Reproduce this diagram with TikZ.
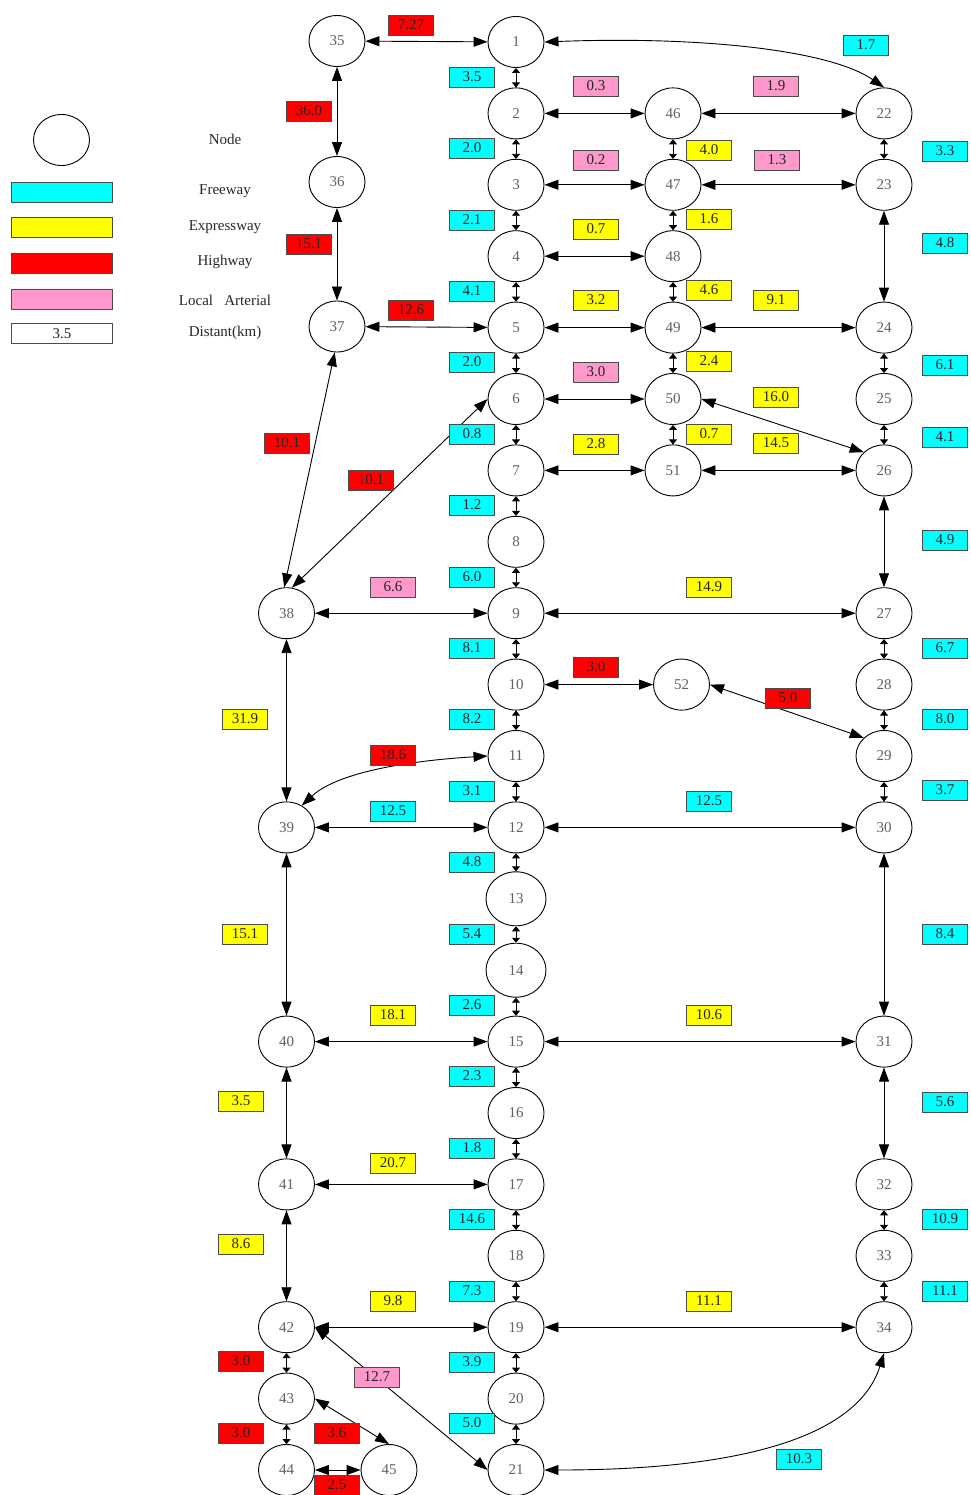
\documentclass[tikz,border=0pt]{standalone}
\usepackage{fontspec}
\setmainfont{Liberation Serif}
\usetikzlibrary{arrows.meta,shapes.geometric}
\definecolor{fwc}{HTML}{00FFFF}
\definecolor{exc}{HTML}{FFFF00}
\definecolor{hwc}{HTML}{FF0000}
\definecolor{lac}{HTML}{FF99CC}
\begin{document}
\begin{tikzpicture}[x=1pt,y=-1pt,
  nd/.style={ellipse,draw=black,line width=0.9pt,minimum width=56pt,minimum height=51pt,inner sep=0pt,font=\fontsize{15}{15}\selectfont,text=black!62},
  lb/.style={rectangle,draw=black!70,line width=0.9pt,minimum width=45pt,minimum height=20pt,inner sep=0pt,font=\fontsize{15}{15}\selectfont,text=black!85},
  fwy/.style={lb,fill=fwc}, exw/.style={lb,fill=exc}, hwy/.style={lb,fill=hwc}, loc/.style={lb,fill=lac},
  lgbox/.style={rectangle,draw=black!70,line width=0.9pt,minimum width=101pt,minimum height=20pt,inner sep=0pt,font=\fontsize{15}{15}\selectfont},
  lgtxt/.style={font=\fontsize{15}{15}\selectfont,text=black!85,inner sep=0pt},
  big/.style={{Triangle[length=14pt,width=10pt]}-{Triangle[length=14pt,width=10pt]},line width=0.9pt},
  sml/.style={{Triangle[length=5pt,width=8pt]}-{Triangle[length=5pt,width=8pt]},line width=0.9pt},
]
\useasboundingbox (0,0) rectangle (970,1495);
% legend
\node[nd] (lgnode) at (61.5,140) {};
\node[lgbox,fill=fwc] (lgfw) at (62,192) {};
\node[lgbox,fill=exc] (lgex) at (62,227.5) {};
\node[lgbox,fill=hwc] (lghw) at (62,263) {};
\node[lgbox,fill=lac] (lgla) at (62,299) {};
\node[lgbox,fill=white,text=black!85] (lgdi) at (62,333.5) {3.5};
\node[lgtxt] (tnode) at (225,139) {Node};
\node[lgtxt] (tfw) at (225,191) {Freeway};
\node[lgtxt] (tex) at (225,227) {Expressway};
\node[lgtxt] (thw) at (225,262) {Highway};
\node[lgtxt] (tla) at (225,300) {Local\ \ \ Arterial};
\node[lgtxt] (tdi) at (225,333) {Distant(km)};
% central column
\node[nd] (n1) at (516,42) {1};
\node[nd] (n2) at (516,113.4) {2};
\node[nd] (n3) at (516,184.8) {3};
\node[nd] (n4) at (516,256.2) {4};
\node[nd] (n5) at (516,327.6) {5};
\node[nd] (n6) at (516,399) {6};
\node[nd] (n7) at (516,470.4) {7};
\node[nd] (n8) at (516,541.8) {8};
\node[nd] (n9) at (516,613.2) {9};
\node[nd] (n10) at (516,684.6) {10};
\node[nd] (n11) at (516,756) {11};
\node[nd] (n12) at (516,827.4) {12};
\node[nd,minimum width=60pt,minimum height=54pt] (n13) at (516,898.8) {13};
\node[nd,minimum width=60pt,minimum height=54pt] (n14) at (516,970.2) {14};
\node[nd] (n15) at (516,1041.6) {15};
\node[nd] (n16) at (516,1113) {16};
\node[nd] (n17) at (516,1184.4) {17};
\node[nd] (n18) at (516,1255.8) {18};
\node[nd] (n19) at (516,1327.2) {19};
\node[nd] (n20) at (516,1398.6) {20};
\node[nd] (n21) at (516,1470) {21};
% right column
\node[nd] (n22) at (884,113.4) {22};
\node[nd] (n23) at (884,184.8) {23};
\node[nd] (n24) at (884,327.6) {24};
\node[nd] (n25) at (884,399) {25};
\node[nd] (n26) at (884,470.4) {26};
\node[nd] (n27) at (884,613.2) {27};
\node[nd] (n28) at (884,684.6) {28};
\node[nd] (n29) at (884,756) {29};
\node[nd] (n30) at (884,827.4) {30};
\node[nd] (n31) at (884,1041.6) {31};
\node[nd] (n32) at (884,1184.4) {32};
\node[nd] (n33) at (884,1255.8) {33};
\node[nd] (n34) at (884,1327.2) {34};
% left columns
\node[nd] (n35) at (337,41) {35};
\node[nd] (n36) at (337,182) {36};
\node[nd] (n37) at (337,326.5) {37};
\node[nd] (n38) at (286.5,613.2) {38};
\node[nd] (n39) at (286.5,827.4) {39};
\node[nd] (n40) at (286.5,1041.6) {40};
\node[nd] (n41) at (286.5,1184.4) {41};
\node[nd] (n42) at (286.5,1327.2) {42};
\node[nd] (n43) at (286.5,1398.6) {43};
\node[nd] (n44) at (286.5,1470) {44};
\node[nd] (n45) at (389,1470) {45};
% middle column
\node[nd] (n46) at (673,113.4) {46};
\node[nd] (n47) at (673,184.8) {47};
\node[nd] (n48) at (673,256.2) {48};
\node[nd] (n49) at (673,327.6) {49};
\node[nd] (n50) at (673,399) {50};
\node[nd] (n51) at (673,470.4) {51};
\node[nd] (n52) at (681.5,684.6) {52};
% short vertical links
\foreach \a/\b in {1/2,2/3,3/4,4/5,5/6,6/7,7/8,8/9,9/10,10/11,11/12,12/13,13/14,14/15,15/16,16/17,17/18,18/19,19/20,20/21,
  46/47,47/48,48/49,49/50,50/51,22/23,24/25,25/26,27/28,28/29,29/30,32/33,33/34,42/43,43/44}
  \draw[sml] (n\a) -- (n\b);
% long links
\foreach \a/\b in {23/24,26/27,30/31,31/32,35/36,36/37,38/39,39/40,40/41,41/42,
  35/1,37/5,38/9,39/12,40/15,41/17,42/19,44/45,
  2/46,3/47,4/48,5/49,6/50,7/51,46/22,47/23,49/24,51/26,9/27,10/52,12/30,15/31,19/34}
  \draw[big] (n\a) -- (n\b);
\draw[big] (n37.265) -- (n38.95);
\draw[big] (n6.west) -- (n38.78);
\draw[big] (n50.east) -- (n26.138);
\draw[big] (n52.east) -- (n29.138);
\draw[big] (n42.east) -- (n21.west);
\draw[big] (n43.east) -- (n45.north);
\draw[big] (n11.west) .. controls (420,760) and (340,770) .. (n39.55);
\draw[big] (n1.east) .. controls (700,36) and (830,50) .. (n22.north);
\draw[big] (n21.east) .. controls (760,1470) and (860,1430) .. (n34.south);
% labels
\node[hwy] (d1) at (411,25) {7.27};
\node[hwy] (d2) at (309,111) {36.0};
\node[hwy] (d3) at (309,244) {15.1};
\node[hwy] (d4) at (411,310) {12.6};
\node[hwy] (d5) at (287,443) {10.1};
\node[hwy] (d6) at (371,480) {10.1};
\node[fwy] (d7) at (472,77) {3.5};
\node[fwy] (d8) at (472,148) {2.0};
\node[fwy] (d9) at (472,220) {2.1};
\node[fwy] (d10) at (472,291) {4.1};
\node[fwy] (d11) at (472,362) {2.0};
\node[fwy] (d12) at (472,434) {0.8};
\node[fwy] (d13) at (472,505) {1.2};
\node[fwy] (d14) at (472,577) {6.0};
\node[fwy] (d15) at (472,648) {8.1};
\node[fwy] (d16) at (472,719) {8.2};
\node[fwy] (d17) at (472,791) {3.1};
\node[fwy] (d18) at (472,862) {4.8};
\node[fwy] (d19) at (472,934) {5.4};
\node[fwy] (d20) at (472,1005) {2.6};
\node[fwy] (d21) at (472,1076) {2.3};
\node[fwy] (d22) at (472,1148) {1.8};
\node[fwy] (d23) at (472,1219) {14.6};
\node[fwy] (d24) at (472,1291) {7.3};
\node[fwy] (d25) at (472,1362) {3.9};
\node[fwy] (d26) at (472,1423) {5.0};
\node[loc] (d27) at (596,86) {0.3};
\node[loc] (d28) at (596,160) {0.2};
\node[exw] (d29) at (596,229) {0.7};
\node[exw] (d30) at (596,300) {3.2};
\node[loc] (d31) at (596,372) {3.0};
\node[exw] (d32) at (596,444) {2.8};
\node[exw] (d33) at (709,150) {4.0};
\node[exw] (d34) at (709,219) {1.6};
\node[exw] (d35) at (709,290) {4.6};
\node[exw] (d36) at (709,361) {2.4};
\node[exw] (d37) at (709,434) {0.7};
\node[loc] (d38) at (776,86) {1.9};
\node[loc] (d39) at (777,160) {1.3};
\node[exw] (d40) at (776,300) {9.1};
\node[exw] (d41) at (776,397) {16.0};
\node[exw] (d42) at (776,443) {14.5};
\node[fwy] (d43) at (866,45) {1.7};
\node[fwy] (d44) at (945,151) {3.3};
\node[fwy] (d45) at (945,243) {4.8};
\node[fwy] (d46) at (945,365) {6.1};
\node[fwy] (d47) at (945,437) {4.1};
\node[fwy] (d48) at (945,540) {4.9};
\node[fwy] (d49) at (945,648) {6.7};
\node[fwy] (d50) at (945,719) {8.0};
\node[fwy] (d51) at (945,790) {3.7};
\node[fwy] (d52) at (945,934) {8.4};
\node[fwy] (d53) at (945,1102) {5.6};
\node[fwy] (d54) at (945,1219) {10.9};
\node[fwy] (d55) at (945,1291) {11.1};
\node[loc] (d56) at (393,587) {6.6};
\node[exw] (d57) at (709,587) {14.9};
\node[hwy] (d58) at (596,667) {3.0};
\node[hwy] (d59) at (788,698) {5.0};
\node[exw] (d60) at (245,719) {31.9};
\node[hwy] (d61) at (393,755) {18.6};
\node[fwy] (d62) at (393,811) {12.5};
\node[fwy] (d63) at (709,801) {12.5};
\node[exw] (d64) at (245,934) {15.1};
\node[exw] (d65) at (393,1015) {18.1};
\node[exw] (d66) at (709,1015) {10.6};
\node[exw] (d67) at (241,1101) {3.5};
\node[exw] (d68) at (393,1163) {20.7};
\node[exw] (d69) at (241,1244) {8.6};
\node[exw] (d70) at (393,1301) {9.8};
\node[exw] (d71) at (709,1301) {11.1};
\node[hwy] (d72) at (241,1361) {3.0};
\node[hwy] (d73) at (241,1433) {3.0};
\node[hwy] (d74) at (337,1433) {3.6};
\node[loc] (d75) at (377,1377) {12.7};
\node[hwy] (d76) at (337,1485) {2.5};
\node[fwy] (d77) at (799,1459) {10.3};
\end{tikzpicture}
\end{document}
